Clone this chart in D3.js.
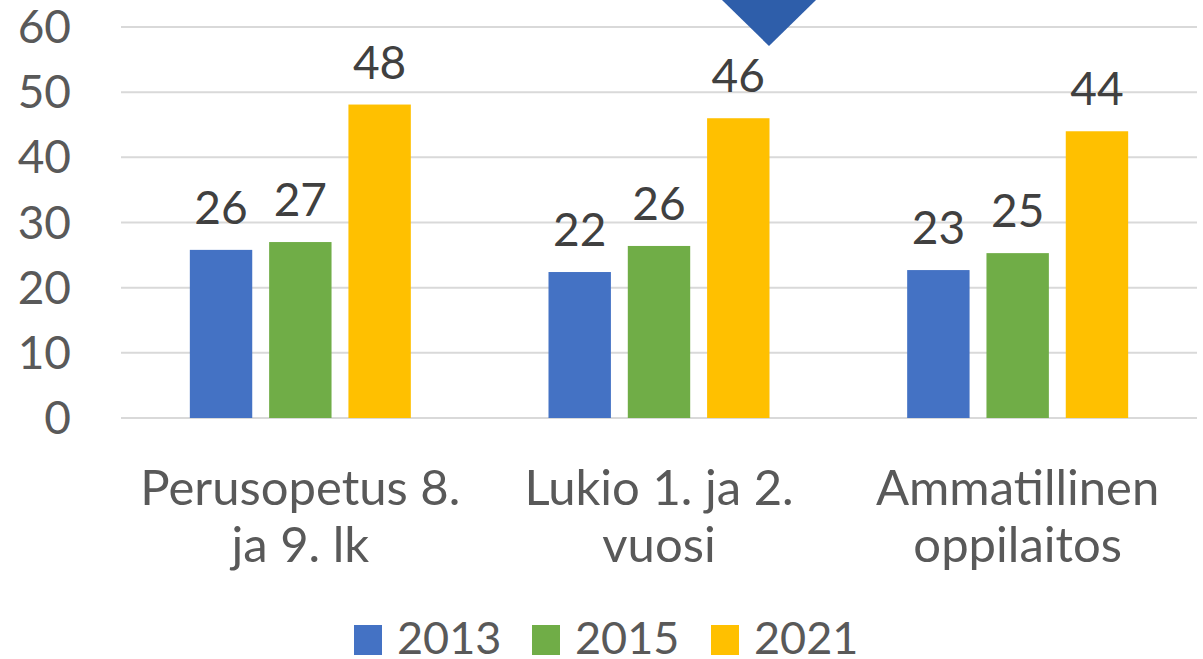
<!DOCTYPE html>
<html lang="fi">

<head>
    <meta charset="utf-8">
    <title>Chart</title>
    <script src="https://d3js.org/d3.v7.min.js"></script>
    <style>
        body { margin: 0; background: #fff; }
        text { font-family: Lato, "Open Sans", sans-serif; }
    </style>
</head>

<body>
    <script type="text/javascript">

        var w = 1203;
        var h = 659;

        // data
        var categories = [["Perusopetus 8.", "ja 9. lk"], ["Lukio 1. ja 2.", "vuosi"], ["Ammatillinen", "oppilaitos"]];
        var series = ["2013", "2015", "2021"];
        var values2013 = [25.8, 22.4, 22.7];
        var values2015 = [27.0, 26.4, 25.3];
        var values2021 = [48.1, 46.0, 44.0];
        var valueLabels2013 = ["26", "22", "23"];
        var valueLabels2015 = ["27", "26", "25"];
        var valueLabels2021 = ["48", "46", "44"];
        var yTicks = [0, 10, 20, 30, 40, 50, 60];

        var colors = ["#4472C4", "#70AD47", "#FFC000"];
        var allValues = [values2013, values2015, values2021];
        var allLabels = [valueLabels2013, valueLabels2015, valueLabels2021];

        var svg = d3.select("body")
            .append("svg")
            .attr("width", w)
            .attr("height", h);

        var y = d3.scaleLinear()
            .domain([0, 60])
            .range([418, 27]);

        var x0 = d3.scaleBand()
            .domain(d3.range(categories.length))
            .range([121, 1197])
            .padding(0);

        var x1 = d3.scaleBand()
            .domain(series)
            .range([-110.5, 110.5])
            .paddingInner(0.213);

        // gridlines
        svg.selectAll("line.grid")
            .data(yTicks)
            .enter()
            .append("line")
            .attr("class", "grid")
            .attr("x1", 121)
            .attr("x2", 1197)
            .attr("y1", function (d) { return y(d); })
            .attr("y2", function (d) { return y(d); })
            .attr("stroke", "#D9D9D9")
            .attr("stroke-width", 2);

        // y tick labels
        svg.selectAll("text.ytick")
            .data(yTicks)
            .enter()
            .append("text")
            .attr("class", "ytick")
            .attr("x", 71)
            .attr("y", function (d) { return y(d); })
            .attr("dy", "0.35em")
            .attr("text-anchor", "end")
            .attr("font-size", 46)
            .attr("fill", "#595959")
            .text(function (d) { return d; });

        // bars
        var groups = svg.selectAll("g.group")
            .data(categories)
            .enter()
            .append("g")
            .attr("class", "group")
            .attr("transform", function (d, i) {
                return "translate(" + (x0(i) + x0.bandwidth() / 2) + ",0)";
            });

        groups.each(function (c, ci) {
            var g = d3.select(this);
            series.forEach(function (s, si) {
                var v = allValues[si][ci];
                g.append("rect")
                    .attr("x", x1(s))
                    .attr("y", y(v))
                    .attr("width", x1.bandwidth())
                    .attr("height", y(0) - y(v))
                    .attr("fill", colors[si]);
                g.append("text")
                    .attr("x", x1(s) + x1.bandwidth() / 2)
                    .attr("y", y(v) - 26)
                    .attr("text-anchor", "middle")
                    .attr("font-size", 46)
                    .attr("fill", "#404040")
                    .text(allLabels[si][ci]);
            });

            g.selectAll("text.cat")
                .data(c)
                .enter()
                .append("text")
                .attr("class", "cat")
                .attr("x", 0)
                .attr("y", function (d, li) { return 505 + li * 57; })
                .attr("text-anchor", "middle")
                .attr("font-size", 49)
                .attr("fill", "#595959")
                .text(function (d) { return d; });
        });

        // decorative marker at the top
        svg.append("path")
            .attr("d", "M722,0 L816,0 L769,46 Z")
            .attr("fill", "#2E5EAA");

        // legend
        var legendX = [354, 532, 711];
        var legend = svg.selectAll("g.legend")
            .data(series)
            .enter()
            .append("g")
            .attr("class", "legend")
            .attr("transform", function (d, i) { return "translate(" + legendX[i] + ",0)"; });

        legend.append("rect")
            .attr("x", 0)
            .attr("y", 625)
            .attr("width", 28)
            .attr("height", 30)
            .attr("fill", function (d, i) { return colors[i]; });

        legend.append("text")
            .attr("x", 43)
            .attr("y", 654)
            .attr("font-size", 45)
            .attr("fill", "#595959")
            .text(function (d) { return d; });

    </script>
</body>

</html>
